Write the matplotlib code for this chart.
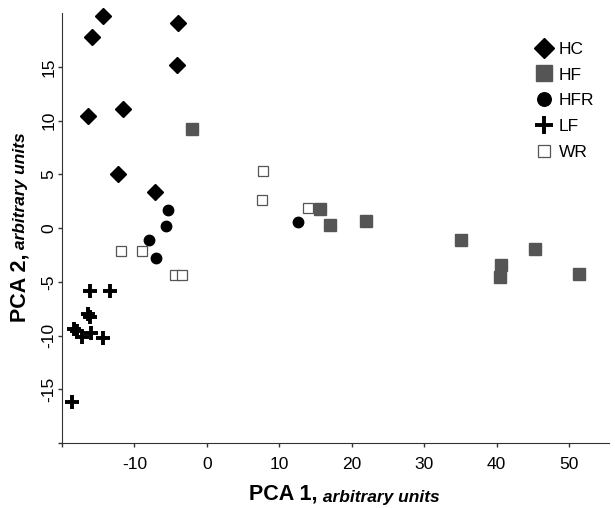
"""
PCA de grupos: dispersão PCA 1 x PCA 2 com cinco grupos.
"""

import matplotlib.pyplot as plt

plt.rcParams["font.family"] = ["Liberation Sans", "DejaVu Sans"]

# Valores (unidades arbitrárias)
hc_x = [-14.4, -4.0, -15.9, -4.15, -11.6, -16.4, -12.2, -7.2]
hc_y = [19.7, 19.1, 17.8, 15.2, 11.1, 10.4, 5.0, 3.4]

hf_x = [-2.0, 15.6, 17.0, 22.0, 35.1, 45.3, 40.6, 40.5, 51.4]
hf_y = [9.25, 1.74, 0.28, 0.68, -1.15, -1.96, -3.39, -4.57, -4.26]

hfr_x = [-5.4, -5.6, -8.0, -7.0, 12.6]
hfr_y = [1.68, 0.19, -1.09, -2.77, 0.56]

lf_x = [-16.1, -13.4, -16.4, -16.1, -18.4, -17.9, -17.3, -16.0, -14.3, -18.6]
lf_y = [-5.9, -5.9, -8.0, -8.3, -9.4, -9.6, -10.1, -9.8, -10.2, -16.2]

wr_x = [-11.8, -9.0, 7.8, 7.6, 13.9, -4.4, -3.4]
wr_y = [-2.14, -2.14, 5.3, 2.64, 1.86, -4.32, -4.32]

x_ticks = [-20, -10, 0, 10, 20, 30, 40, 50]
x_tick_labels = ["", "-10", "0", "10", "20", "30", "40", "50"]
y_ticks = [-20, -15, -10, -5, 0, 5, 10, 15]
y_tick_labels = ["", "-15", "-10", "-5", "0", "5", "10", "15"]

fig = plt.figure(figsize=(6.15, 5.08), dpi=100)
ax = fig.add_axes([0.1008, 0.128, 0.8892, 0.846])

ax.plot(hc_x, hc_y, "D", color="black", ms=8, label="HC", linestyle="none",
        clip_on=False)
ax.plot(hf_x, hf_y, "s", color="#555555", ms=9, label="HF", linestyle="none",
        clip_on=False)
ax.plot(hfr_x, hfr_y, "o", color="black", ms=7.5, label="HFR",
        linestyle="none", clip_on=False)
ax.plot(lf_x, lf_y, "+", color="black", ms=10, mew=2.8, label="LF",
        linestyle="none", clip_on=False)
ax.plot(wr_x, wr_y, "s", mfc="white", mec="#555555", mew=0.9, ms=6.5,
        label="WR", linestyle="none", clip_on=False)

ax.set_xlim(-20, 55.5)
ax.set_ylim(-20, 20)
ax.set_xticks(x_ticks)
ax.set_xticklabels(x_tick_labels, fontsize=12.5)
ax.set_yticks(y_ticks)
ax.set_yticklabels(y_tick_labels, fontsize=12.5, rotation=90, va="center")
ax.tick_params(length=3, width=1, color="#333333")
ax.tick_params(axis="x", pad=7)
ax.tick_params(axis="y", pad=1)

for lado in ["top", "right"]:
    ax.spines[lado].set_visible(False)
for lado in ["left", "bottom"]:
    ax.spines[lado].set_color("#333333")

# Rótulos dos eixos: parte em negrito + parte em itálico
t1 = fig.text(0.517, 0.016, "PCA 1,", fontsize=15.5, fontweight="bold",
              ha="right", va="baseline")
ax.annotate(" arbitrary units", xy=(1, 0), xycoords=t1, fontsize=12.5,
            fontweight="bold", style="italic", ha="left", va="bottom")

t2 = fig.text(0.033, 0.366, "PCA 2,", fontsize=15.5, fontweight="bold",
              rotation=90, ha="center", va="bottom")
ax.annotate(" arbitrary units", xy=(0.5, 1), xycoords=t2, fontsize=12.5,
            fontweight="bold", style="italic", rotation=90,
            ha="center", va="bottom")

leg = ax.legend(loc="upper right", bbox_to_anchor=(1.03, 1.007),
                frameon=False, fontsize=12.5, handletextpad=0.25,
                labelspacing=0.62, borderaxespad=1.0, handlelength=1.2,
                markerscale=1.3, borderpad=0.8)

fig.savefig("out.png", dpi=100)
